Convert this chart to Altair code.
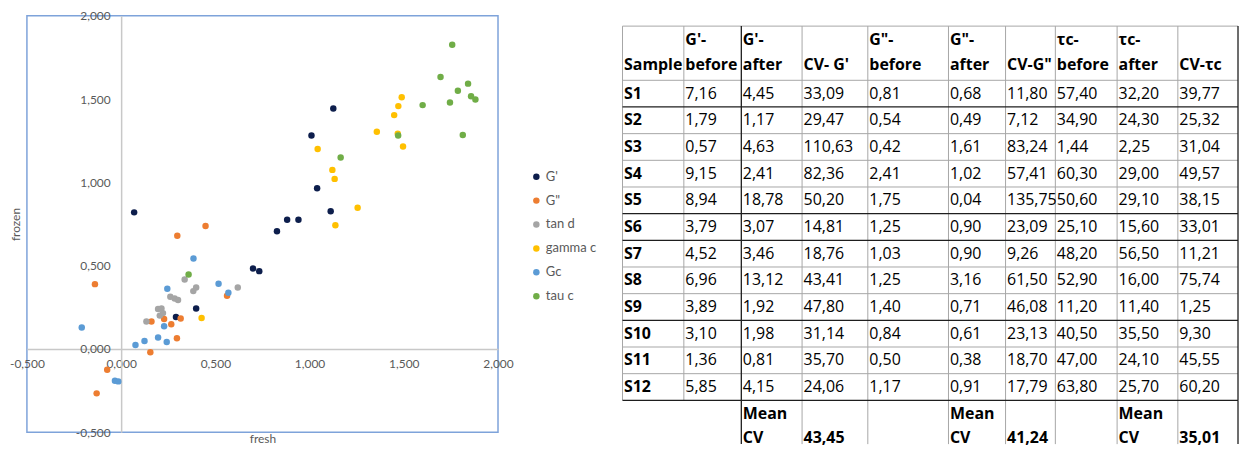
import altair as alt
import pandas as pd

# ---------------- scatter data (fresh vs frozen) ----------------
series = ["G'", 'G"', "tan d", "gamma c", "Gc", "tau c"]
series_colors = ["#0D1E4C", "#ED7D31", "#A5A5A5", "#FFC000", "#5B9BD5", "#70AD47"]

gp_fresh = [0.069, 0.291, 0.398, 0.700, 0.733, 0.827, 0.881, 0.941, 1.112, 1.040, 1.126, 1.010]
gp_frozen = [0.820, 0.192, 0.243, 0.483, 0.467, 0.706, 0.776, 0.776, 0.827, 0.965, 1.444, 1.282]
gpp_fresh = [0.298, 0.448, -0.139, 0.161, 0.228, 0.316, 0.266, 0.296, 0.155, -0.074, -0.130, 0.562]
gpp_frozen = [0.680, 0.738, 0.389, 0.164, 0.180, 0.182, 0.148, 0.064, -0.020, -0.125, -0.267, 0.319]
tand_fresh = [0.261, 0.284, 0.302, 0.196, 0.214, 0.205, 0.134, 0.337, 0.398, 0.383, 0.619, 0.222]
tand_frozen = [0.313, 0.303, 0.294, 0.240, 0.243, 0.200, 0.164, 0.417, 0.369, 0.347, 0.369, 0.215]
gamma_fresh = [0.427, 1.137, 1.255, 1.133, 1.121, 1.043, 1.357, 1.449, 1.471, 1.489, 1.496, 1.468]
gamma_frozen = [0.186, 0.742, 0.848, 1.021, 1.075, 1.200, 1.304, 1.404, 1.458, 1.511, 1.216, 1.292]
gc_fresh = [0.245, 0.228, -0.209, 0.196, 0.124, 0.242, 0.076, -0.033, -0.015, 0.384, 0.517, 0.569]
gc_frozen = [0.361, 0.136, 0.128, 0.068, 0.048, 0.042, 0.024, -0.191, -0.195, 0.543, 0.391, 0.337]
tau_fresh = [0.358, 1.165, 1.470, 1.600, 1.757, 1.695, 1.841, 1.787, 1.745, 1.857, 1.880, 1.813]
tau_frozen = [0.447, 1.149, 1.282, 1.464, 1.827, 1.633, 1.593, 1.550, 1.480, 1.517, 1.498, 1.284]

axis_ticks = [-0.5, 0.0, 0.5, 1.0, 1.5, 2.0]

# ---------------- table data ----------------
samples = ["S1", "S2", "S3", "S4", "S5", "S6", "S7", "S8", "S9", "S10", "S11", "S12"]
g1_before = [7.16, 1.79, 0.57, 9.15, 8.94, 3.79, 4.52, 6.96, 3.89, 3.10, 1.36, 5.85]
g1_after = [4.45, 1.17, 4.63, 2.41, 18.78, 3.07, 3.46, 13.12, 1.92, 1.98, 0.81, 4.15]
cv_g1 = [33.09, 29.47, 110.63, 82.36, 50.20, 14.81, 18.76, 43.41, 47.80, 31.14, 35.70, 24.06]
g2_before = [0.81, 0.54, 0.42, 2.41, 1.75, 1.25, 1.03, 1.25, 1.40, 0.84, 0.50, 1.17]
g2_after = [0.68, 0.49, 1.61, 1.02, 0.04, 0.90, 0.90, 3.16, 0.71, 0.61, 0.38, 0.91]
cv_g2 = [11.80, 7.12, 83.24, 57.41, 135.75, 23.09, 9.26, 61.50, 46.08, 23.13, 18.70, 17.79]
tau_before = [57.40, 34.90, 1.44, 60.30, 50.60, 25.10, 48.20, 52.90, 11.20, 40.50, 47.00, 63.80]
tau_after = [32.20, 24.30, 2.25, 29.00, 29.10, 15.60, 56.50, 16.00, 11.40, 35.50, 24.10, 25.70]
cv_tau = [39.77, 25.32, 31.04, 49.57, 38.15, 33.01, 11.21, 75.74, 1.25, 9.30, 45.55, 60.20]
mean_cv = [43.45, 41.24, 35.01]
mean_cv_cols = [3, 6, 9]
mean_label_cols = [2, 5, 8]
header_line1 = ["", "G'-", "G'-", "", 'G"-', 'G"-', "", "τc-", "τc-", ""]
header_line2 = ["Sample", "before", "after", "CV- G'", "before", "after", 'CV-G"', "before", "after", "CV-τc"]

# ---------------- layout (pixels) ----------------
col_w = [61.6, 57.7, 61.0, 66.0, 81.0, 57.3, 50.0, 62.0, 61.0, 60.4]
TBL_W = sum(col_w)
TBL_H = 430
HEAD_TOP = 10.3
HEAD_H = 54.4
ROW_H = 26.78
TXT_PAD = 1.5

FONT = "Lato"
TFONT = "Open Sans"
GRAY_TXT = "#595959"

# ---------------- scatter chart ----------------
rows = []
for s, fx, fy in zip(series,
                     [gp_fresh, gpp_fresh, tand_fresh, gamma_fresh, gc_fresh, tau_fresh],
                     [gp_frozen, gpp_frozen, tand_frozen, gamma_frozen, gc_frozen, tau_frozen]):
    for a, b in zip(fx, fy):
        rows.append({"series": s, "fresh": a, "frozen": b})
sc_df = pd.DataFrame(rows)

label_expr = "(datum.value < 0 ? '-' : '') + replace(format(abs(datum.value), '.3f'), '.', ',')"

SW, SH = 473, 418

scatter = alt.Chart(sc_df).mark_circle(size=42, opacity=1).encode(
    x=alt.X("fresh:Q",
            scale=alt.Scale(domain=[-0.5, 2.0], nice=False, zero=False),
            axis=alt.Axis(values=axis_ticks, labelExpr=label_expr,
                          offset=-SH * 0.5 / 2.5, grid=False, ticks=False, tickSize=0,
                          domainColor="#C8C8C8", domainWidth=1.5,
                          labelFont=FONT, labelFontSize=12, labelColor=GRAY_TXT,
                          labelPadding=10, labelFlush=False, labelOverlap=False,
                          title="fresh", titleFont=FONT, titleFontSize=12,
                          titleFontWeight="normal", titleColor=GRAY_TXT,
                          titleX=SW / 2, titleY=85, titleBaseline="top")),
    y=alt.Y("frozen:Q",
            scale=alt.Scale(domain=[-0.5, 2.0], nice=False, zero=False),
            axis=alt.Axis(values=axis_ticks, labelExpr=label_expr,
                          offset=-SW * 0.5 / 2.5, grid=False, ticks=False, tickSize=0,
                          domainColor="#C8C8C8", domainWidth=1.5,
                          labelFont=FONT, labelFontSize=12, labelColor=GRAY_TXT,
                          labelPadding=11, labelFlush=False, labelOverlap=False,
                          title="frozen", titleFont=FONT, titleFontSize=12,
                          titleFontWeight="normal", titleColor=GRAY_TXT,
                          titleX=-106, titleY=SH / 2, titleBaseline="middle")),
    color=alt.Color("series:N",
                    scale=alt.Scale(domain=series, range=series_colors),
                    legend=alt.Legend(title=None, orient="none", legendX=505, legendY=155,
                                      symbolType="circle", symbolSize=42,
                                      labelFont=FONT, labelFontSize=13, labelColor=GRAY_TXT,
                                      rowPadding=10, labelOffset=3, padding=0)),
).properties(width=SW, height=SH,
             view=alt.ViewBackground(stroke="#7EA3DA", strokeWidth=1.5))

# ---------------- table chart ----------------
col_x = [0.0]
for w in col_w:
    col_x.append(col_x[-1] + w)
body_top = HEAD_TOP + HEAD_H
row_y = [HEAD_TOP, body_top] + [body_top + k * ROW_H for k in range(1, 13)]
last_y = row_y[-1]


def fmt(v):
    return f"{v:.2f}".replace(".", ",")


texts = []
for c in range(10):
    if header_line1[c]:
        texts.append({"x": col_x[c] + TXT_PAD, "y": HEAD_TOP + 13.7, "t": header_line1[c], "b": 1})
    texts.append({"x": col_x[c] + TXT_PAD, "y": HEAD_TOP + 38.7, "t": header_line2[c], "b": 1})
value_cols = [g1_before, g1_after, cv_g1, g2_before, g2_after, cv_g2, tau_before, tau_after, cv_tau]
for i in range(12):
    yc = body_top + (i + 0.5) * ROW_H
    texts.append({"x": col_x[0] + TXT_PAD, "y": yc, "t": samples[i], "b": 1})
    for j, col in enumerate(value_cols):
        texts.append({"x": col_x[j + 1] + TXT_PAD, "y": yc, "t": fmt(col[i]), "b": 0})
for lc, vc, v in zip(mean_label_cols, mean_cv_cols, mean_cv):
    texts.append({"x": col_x[lc] + TXT_PAD, "y": last_y + 13.9, "t": "Mean", "b": 1})
    texts.append({"x": col_x[lc] + TXT_PAD, "y": last_y + 37.9, "t": "CV", "b": 1})
    texts.append({"x": col_x[vc] + TXT_PAD, "y": last_y + 37.9, "t": fmt(v), "b": 1})
txt_df = pd.DataFrame(texts)

dark_h = {2, 6, 7, 10, 13}  # indices in row_y drawn dark
dark_v = {2, 10}
lines = []
for k, yv in enumerate(row_y):
    lines.append({"x": 0, "x2": TBL_W, "y": yv, "y2": yv, "d": 1 if k in dark_h else 0})
for k, xv in enumerate(col_x):
    lines.append({"x": xv, "x2": xv, "y": HEAD_TOP, "y2": last_y, "d": 1 if k in dark_v else 0})
    if k >= 2:
        lines.append({"x": xv, "x2": xv, "y": last_y, "y2": TBL_H, "d": 1 if k in dark_v else 0})
ln_df = pd.DataFrame(lines)

xs = alt.Scale(domain=[0, TBL_W], nice=False, zero=False)
ys = alt.Scale(domain=[0, TBL_H], nice=False, zero=False, reverse=True)

base_rule = alt.Chart(ln_df)
gray_rules = base_rule.transform_filter("datum.d == 0").mark_rule(color="#A6A6A6", strokeWidth=1).encode(
    x=alt.X("x:Q", scale=xs, axis=None), x2="x2:Q",
    y=alt.Y("y:Q", scale=ys, axis=None), y2="y2:Q")
dark_rules = base_rule.transform_filter("datum.d == 1").mark_rule(color="#1E1E1E", strokeWidth=1.3).encode(
    x=alt.X("x:Q", scale=xs, axis=None), x2="x2:Q",
    y=alt.Y("y:Q", scale=ys, axis=None), y2="y2:Q")

base_txt = alt.Chart(txt_df)
reg_txt = base_txt.transform_filter("datum.b == 0").mark_text(
    align="left", baseline="middle", font=TFONT, fontSize=16, color="#000000").encode(
    x=alt.X("x:Q", scale=xs, axis=None), y=alt.Y("y:Q", scale=ys, axis=None), text="t:N")
bold_txt = base_txt.transform_filter("datum.b == 1").mark_text(
    align="left", baseline="middle", font=TFONT, fontSize=16, fontWeight="bold", color="#000000").encode(
    x=alt.X("x:Q", scale=xs, axis=None), y=alt.Y("y:Q", scale=ys, axis=None), text="t:N")

table = alt.layer(gray_rules, dark_rules, reg_txt, bold_txt).properties(
    width=TBL_W, height=TBL_H, view=alt.ViewBackground(strokeWidth=0))

chart = alt.hconcat(scatter, table, spacing=107).properties(padding=0)

chart.save("out.html", embed_options={"renderer": "svg", "actions": False})
